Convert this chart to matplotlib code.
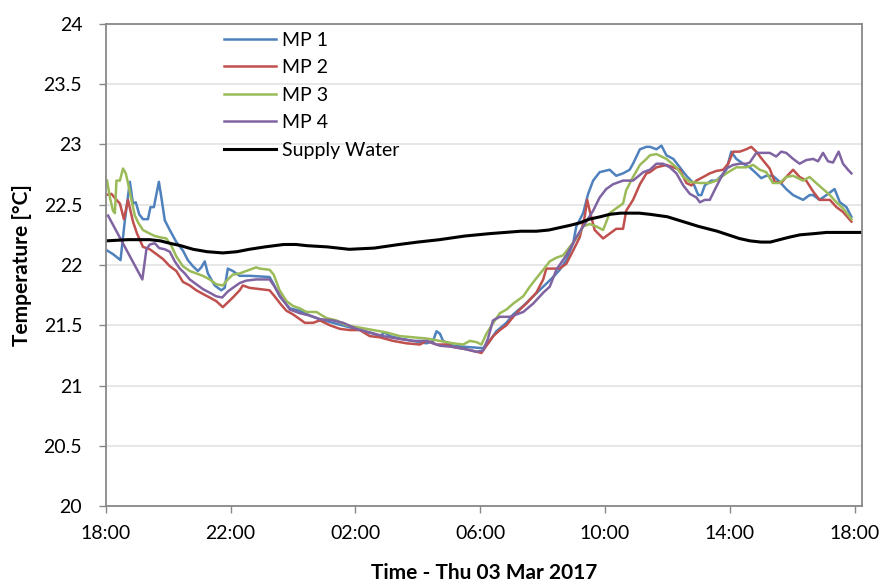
import matplotlib.pyplot as plt

plt.rcParams['font.family'] = ['Lato', 'DejaVu Sans']

# hours after 18:00, temperature in degC
mp1_h = [0.04, 0.23, 0.47, 0.61, 0.77, 0.87, 0.96, 1.07, 1.19, 1.35, 1.43, 1.54, 1.60, 1.70, 1.78, 1.89,
         2.05, 2.26, 2.47, 2.63, 2.79, 2.95, 3.06, 3.17, 3.27, 3.49, 3.70, 3.81, 3.91, 4.07, 4.29, 4.61,
         5.25, 5.38, 5.57, 5.90, 6.22, 6.54, 6.86, 7.28, 7.71, 8.14, 8.57, 8.78, 8.94, 9.10, 9.42, 9.85,
         10.28, 10.49, 10.60, 10.71, 10.81, 11.13, 11.56, 12.09, 12.25, 12.52, 12.84, 13.06, 13.38, 13.70,
         14.02, 14.34, 14.55, 14.76, 14.98, 15.08, 15.30, 15.46, 15.62, 15.83, 16.15, 16.36, 16.58, 16.79,
         16.90, 17.12, 17.33, 17.44, 17.65, 17.81, 17.97, 18.19, 18.40, 18.61, 18.83, 18.99, 19.09, 19.20,
         19.41, 19.57, 19.73, 19.89, 20.05, 20.21, 20.43, 20.64, 20.85, 21.01, 21.17, 21.38, 21.60, 21.81,
         22.03, 22.35, 22.56, 22.67, 22.88, 23.10, 23.36, 23.53, 23.74, 23.90]
mp1_t = [22.12, 22.09, 22.04, 22.37, 22.69, 22.51, 22.52, 22.42, 22.38, 22.38, 22.48, 22.48, 22.56, 22.69,
         22.56, 22.37, 22.29, 22.19, 22.12, 22.04, 21.99, 21.95, 21.98, 22.03, 21.93, 21.83, 21.79, 21.81,
         21.97, 21.95, 21.91, 21.91, 21.90, 21.84, 21.74, 21.64, 21.62, 21.58, 21.55, 21.52, 21.49, 21.46,
         21.43, 21.41, 21.44, 21.41, 21.39, 21.37, 21.35, 21.37, 21.45, 21.43, 21.37, 21.33, 21.32, 21.31,
         21.35, 21.45, 21.52, 21.59, 21.66, 21.74, 21.82, 21.90, 21.96, 22.04, 22.18, 22.32, 22.43, 22.59,
         22.70, 22.77, 22.79, 22.74, 22.76, 22.79, 22.84, 22.96, 22.98, 22.98, 22.96, 22.99, 22.91, 22.88,
         22.81, 22.74, 22.68, 22.58, 22.58, 22.66, 22.70, 22.70, 22.74, 22.79, 22.94, 22.88, 22.84, 22.81,
         22.76, 22.72, 22.74, 22.74, 22.69, 22.63, 22.58, 22.54, 22.58, 22.58, 22.54, 22.58, 22.63, 22.52,
         22.48, 22.40]

mp2_h = [0.0, 0.18, 0.34, 0.45, 0.58, 0.71, 0.87, 1.00, 1.19, 1.41, 1.62, 1.83, 2.05, 2.26, 2.47, 2.69,
         2.90, 3.11, 3.33, 3.54, 3.75, 3.91, 4.07, 4.29, 4.39, 4.61, 4.93, 5.25, 5.41, 5.62, 5.79, 6.00,
         6.22, 6.38, 6.64, 6.86, 7.18, 7.50, 7.82, 8.14, 8.46, 8.78, 9.21, 9.64, 10.07, 10.28, 10.60, 10.92,
         11.13, 11.56, 11.88, 12.04, 12.20, 12.42, 12.63, 12.84, 13.06, 13.27, 13.48, 13.80, 14.02, 14.12,
         14.55, 14.76, 14.98, 15.19, 15.35, 15.43, 15.51, 15.67, 15.94, 16.15, 16.36, 16.58, 16.68, 16.90,
         17.12, 17.33, 17.44, 17.65, 17.97, 18.19, 18.40, 18.61, 18.77, 18.93, 19.15, 19.36, 19.57, 19.79,
         19.95, 20.11, 20.32, 20.53, 20.69, 20.85, 21.06, 21.28, 21.44, 21.65, 21.81, 22.03, 22.24, 22.45,
         22.67, 22.88, 23.21, 23.42, 23.63, 23.90]
mp2_t = [22.58, 22.59, 22.54, 22.51, 22.38, 22.54, 22.36, 22.26, 22.15, 22.13, 22.09, 22.05, 21.99, 21.95,
         21.86, 21.83, 21.79, 21.76, 21.73, 21.70, 21.65, 21.69, 21.73, 21.79, 21.83, 21.81, 21.80, 21.79,
         21.74, 21.67, 21.62, 21.59, 21.55, 21.52, 21.52, 21.54, 21.50, 21.47, 21.46, 21.46, 21.41, 21.40,
         21.37, 21.35, 21.34, 21.37, 21.34, 21.34, 21.32, 21.30, 21.28, 21.27, 21.33, 21.41, 21.46, 21.50,
         21.57, 21.63, 21.68, 21.77, 21.88, 21.97, 21.97, 22.01, 22.12, 22.23, 22.40, 22.54, 22.45, 22.29,
         22.22, 22.26, 22.30, 22.30, 22.45, 22.54, 22.67, 22.76, 22.77, 22.81, 22.83, 22.81, 22.79, 22.68,
         22.66, 22.70, 22.73, 22.76, 22.78, 22.79, 22.84, 22.94, 22.94, 22.96, 22.98, 22.94, 22.87, 22.80,
         22.69, 22.68, 22.73, 22.79, 22.73, 22.70, 22.61, 22.54, 22.54, 22.48, 22.44, 22.36]

mp3_h = [0.04, 0.13, 0.23, 0.29, 0.34, 0.45, 0.55, 0.64, 0.71, 0.82, 0.93, 1.04, 1.19, 1.41, 1.57, 1.73,
         1.94, 2.10, 2.26, 2.47, 2.69, 2.90, 3.11, 3.33, 3.54, 3.75, 3.91, 4.07, 4.29, 4.50, 4.71, 4.82,
         4.93, 5.25, 5.38, 5.57, 5.79, 6.00, 6.22, 6.43, 6.75, 7.07, 7.39, 7.71, 8.14, 8.57, 9.00, 9.42,
         9.85, 10.28, 10.71, 11.13, 11.45, 11.67, 11.88, 12.04, 12.20, 12.42, 12.63, 12.84, 13.06, 13.38,
         13.59, 13.80, 14.02, 14.23, 14.44, 14.66, 14.87, 15.08, 15.30, 15.51, 15.72, 15.94, 16.15, 16.36,
         16.58, 16.68, 16.90, 17.12, 17.33, 17.44, 17.65, 17.97, 18.29, 18.51, 18.72, 19.04, 19.36, 19.57,
         19.89, 20.21, 20.53, 20.75, 20.96, 21.17, 21.38, 21.60, 21.81, 22.03, 22.35, 22.56, 22.77, 22.99,
         23.21, 23.42, 23.63, 23.90]
mp3_t = [22.70, 22.56, 22.45, 22.43, 22.70, 22.70, 22.80, 22.76, 22.68, 22.54, 22.41, 22.35, 22.29, 22.26,
         22.24, 22.23, 22.22, 22.16, 22.07, 21.99, 21.95, 21.93, 21.91, 21.88, 21.84, 21.83, 21.88, 21.92,
         21.93, 21.95, 21.97, 21.98, 21.97, 21.96, 21.92, 21.79, 21.70, 21.66, 21.64, 21.61, 21.61, 21.56,
         21.54, 21.50, 21.48, 21.46, 21.44, 21.41, 21.40, 21.39, 21.37, 21.35, 21.34, 21.37, 21.36, 21.34,
         21.43, 21.52, 21.60, 21.63, 21.68, 21.74, 21.82, 21.89, 21.96, 22.03, 22.06, 22.08, 22.15, 22.22,
         22.32, 22.34, 22.32, 22.29, 22.43, 22.47, 22.51, 22.62, 22.73, 22.83, 22.88, 22.91, 22.92, 22.88,
         22.81, 22.73, 22.69, 22.68, 22.68, 22.70, 22.76, 22.81, 22.81, 22.83, 22.79, 22.77, 22.68, 22.68,
         22.73, 22.74, 22.70, 22.73, 22.68, 22.63, 22.58, 22.52, 22.47, 22.38]

mp4_h = [0.07, 1.17, 1.30, 1.41, 1.57, 1.71, 1.89, 2.05, 2.21, 2.37, 2.53, 2.69, 2.90, 3.11, 3.33, 3.54,
         3.73, 3.91, 4.07, 4.29, 4.50, 4.82, 5.25, 5.41, 5.62, 5.90, 6.22, 6.54, 6.86, 7.28, 7.61, 8.03,
         8.46, 8.89, 9.32, 9.85, 10.28, 10.71, 11.13, 11.56, 11.88, 12.09, 12.25, 12.41, 12.63, 12.95,
         13.38, 13.70, 14.02, 14.23, 14.44, 14.76, 15.08, 15.40, 15.62, 15.83, 16.04, 16.26, 16.58, 16.90,
         17.23, 17.44, 17.65, 17.86, 18.08, 18.29, 18.51, 18.72, 18.93, 19.04, 19.20, 19.36, 19.57, 19.73,
         19.89, 20.11, 20.32, 20.53, 20.64, 20.85, 21.06, 21.28, 21.49, 21.65, 21.81, 22.03, 22.24, 22.45,
         22.67, 22.83, 22.99, 23.15, 23.31, 23.49, 23.63, 23.79, 23.90]
mp4_t = [22.41, 21.88, 22.13, 22.17, 22.18, 22.14, 22.13, 22.11, 22.03, 21.97, 21.93, 21.88, 21.84, 21.80,
         21.77, 21.74, 21.73, 21.78, 21.81, 21.85, 21.87, 21.88, 21.88, 21.82, 21.73, 21.63, 21.60, 21.58,
         21.55, 21.54, 21.52, 21.47, 21.44, 21.41, 21.39, 21.37, 21.37, 21.33, 21.32, 21.30, 21.28, 21.29,
         21.39, 21.54, 21.57, 21.57, 21.61, 21.68, 21.77, 21.82, 21.96, 22.08, 22.23, 22.36, 22.45, 22.56,
         22.63, 22.67, 22.70, 22.70, 22.77, 22.79, 22.84, 22.84, 22.81, 22.76, 22.66, 22.59, 22.56, 22.52,
         22.54, 22.54, 22.65, 22.73, 22.80, 22.83, 22.84, 22.84, 22.85, 22.93, 22.93, 22.93, 22.90, 22.94,
         22.93, 22.88, 22.84, 22.87, 22.88, 22.86, 22.93, 22.86, 22.85, 22.94, 22.84, 22.79, 22.76]

supply_h = [0.0, 0.7, 1.4, 1.75, 2.05, 2.4, 2.8, 3.25, 3.75, 4.2, 4.6, 5.1, 5.7, 6.1, 6.45, 7.1, 7.8,
            8.6, 9.4, 10.0, 10.7, 11.5, 12.3, 12.8, 13.3, 13.8, 14.2, 14.55, 14.9, 15.2, 15.5, 15.85,
            16.15, 16.5, 16.8, 17.1, 17.45, 18.0, 18.5, 19.0, 19.6, 20.3, 20.65, 21.0, 21.3, 21.6, 21.9,
            22.25, 22.7, 23.1, 23.6, 24.23]
supply_t = [22.20, 22.21, 22.21, 22.20, 22.18, 22.16, 22.13, 22.11, 22.10, 22.11, 22.13, 22.15, 22.17,
            22.17, 22.16, 22.15, 22.13, 22.14, 22.17, 22.19, 22.21, 22.24, 22.26, 22.27, 22.28, 22.28,
            22.29, 22.31, 22.33, 22.35, 22.38, 22.40, 22.42, 22.43, 22.43, 22.43, 22.42, 22.40, 22.36,
            22.32, 22.28, 22.22, 22.20, 22.19, 22.19, 22.21, 22.23, 22.25, 22.26, 22.27, 22.27, 22.27]

tick_hours = [0, 4, 8, 12, 16, 20, 24]
tick_labels = ['18:00', '22:00', '02:00', '06:00', '10:00', '14:00', '18:00']
y_ticks = [20, 20.5, 21, 21.5, 22, 22.5, 23, 23.5, 24]
y_labels = ['20', '20.5', '21', '21.5', '22', '22.5', '23', '23.5', '24']

fig = plt.figure(figsize=(8.82, 5.83), dpi=100)
ax = fig.add_axes([0.120, 0.132, 0.857, 0.827])

ax.plot(mp1_h, mp1_t, color='#4F81BD', lw=1.8, label='MP 1')
ax.plot(mp2_h, mp2_t, color='#C0504D', lw=1.8, label='MP 2')
ax.plot(mp3_h, mp3_t, color='#9BBB59', lw=1.8, label='MP 3')
ax.plot(mp4_h, mp4_t, color='#8064A2', lw=1.8, label='MP 4')
ax.plot(supply_h, supply_t, color='black', lw=2.2, label='Supply Water')

ax.set_xlim(0, 24.23)
ax.set_ylim(20, 24)
ax.set_xticks(tick_hours)
ax.set_xticklabels(tick_labels)
ax.set_yticks(y_ticks)
ax.set_yticklabels(y_labels)
ax.tick_params(labelsize=14, length=5, width=1, color='#888888')
ax.tick_params(axis='x', pad=9)
ax.tick_params(axis='y', pad=12)
ax.yaxis.grid(True, color='#E3E3E3', lw=1.2)
ax.set_axisbelow(True)
for s in ax.spines.values():
    s.set_color('#888888')
    s.set_linewidth(1.3)

ax.set_xlabel('Time - Thu 03 Mar 2017', fontsize=15, fontweight='bold', labelpad=15)
ax.set_ylabel('Temperature [°C]', fontsize=15, fontweight='bold', labelpad=8)

ax.legend(loc='upper left', bbox_to_anchor=(0.146, 1.0), frameon=False, fontsize=14,
          handlelength=2.7, handletextpad=0.3, labelspacing=0.54, borderaxespad=0)

fig.savefig('out.png', dpi=100)
